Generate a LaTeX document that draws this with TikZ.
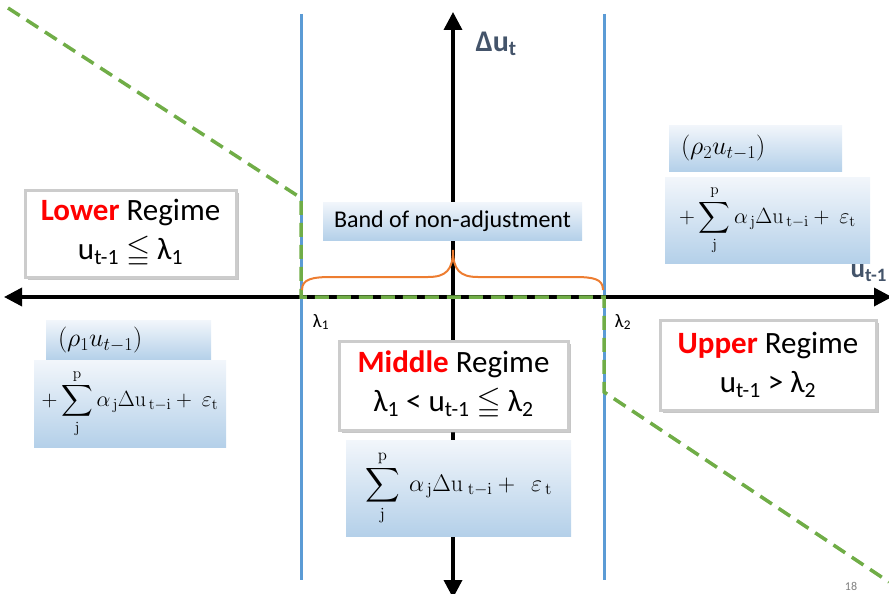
\documentclass[tikz,border=0pt]{standalone}
\usepackage{fix-cm}
\usepackage{amsmath, amssymb}
\usepackage[no-math]{fontspec}
\setmainfont{Carlito}
\usetikzlibrary{arrows.meta,shadows}

\begin{document}
\begin{tikzpicture}[x=1pt, y=-1pt,
  regimen/.style={draw=gray!40, line width=3pt, fill=white, inner sep=0pt, align=center,
    drop shadow={opacity=0.45, shadow xshift=2.5pt, shadow yshift=-2.5pt},
    font=\fontsize{31}{39}\selectfont},
  caja/.style={top color=cajaArriba, bottom color=cajaAbajo, inner sep=0pt, align=center},
  formula/.style={caja, font=\fontsize{22}{26}\selectfont},
  eje/.style={line width=3.5pt, {Triangle[length=18pt,width=18pt]}-{Triangle[length=18pt,width=18pt]}}]

% Colores
\definecolor{azulLinea}{RGB}{91,155,213}
\definecolor{verdeLinea}{RGB}{112,173,71}
\definecolor{naranjaLlave}{RGB}{237,125,49}
\definecolor{cajaArriba}{RGB}{242,246,251}
\definecolor{cajaAbajo}{RGB}{180,208,233}
\definecolor{grisEje}{RGB}{68,84,106}

\useasboundingbox (0,0) rectangle (889,594);

% Umbrales lambda
\coordinate (L1top) at (301,14);
\coordinate (L1bot) at (301,580);
\coordinate (L2top) at (604,14);
\coordinate (L2bot) at (604,580);
\draw[azulLinea, line width=3pt] (L1top) -- (L1bot);
\draw[azulLinea, line width=3pt] (L2top) -- (L2bot);

% Ejes
\coordinate (izq) at (4,297);
\coordinate (der) at (892,297);
\coordinate (arriba) at (453,12);
\coordinate (abajo) at (453,598);
\draw[eje] (izq) -- (der);
\draw[eje] (abajo) -- (arriba);

% Funcion de ajuste (discontinua)
\coordinate (g0) at (8,8);
\coordinate (g1) at (301,198);
\coordinate (g2) at (301,297);
\coordinate (g3) at (604,297);
\coordinate (g4) at (604,392);
\coordinate (g5) at (889,582);
\draw[verdeLinea, line width=3.5pt, dash pattern=on 14pt off 8pt]
  (g0) -- (g1) -- (g2) -- (g3) -- (g4) -- (g5);

% Llave de la banda
\draw[naranjaLlave, line width=2pt]
  (302,290) .. controls (302,279) and (312,277) .. (332,277) -- (428,277)
  .. controls (446,277) and (453,270) .. (453,250)
  .. controls (453,270) and (460,277) .. (478,277) -- (574,277)
  .. controls (594,277) and (603,279) .. (603,290);

% Etiquetas de ejes
\node[text=grisEje, font=\fontsize{30}{34}\selectfont\bfseries, anchor=west] (du) at (472,44) {Δu\textsubscript{t}};
\node[text=grisEje, font=\fontsize{27}{30}\selectfont\bfseries, anchor=west] (ut) at (847,273) {u\textsubscript{t-1}};
\node[font=\fontsize{19}{22}\selectfont] (lam1) at (321,322) {λ\textsubscript{1}};
\node[font=\fontsize{19}{22}\selectfont] (lam2) at (623,322) {λ\textsubscript{2}};

% Banda
\node[caja, minimum width=259pt, minimum height=38pt, font=\fontsize{24}{28}\selectfont] (banda) at (452.5,221) {Band of non-adjustment};

% Regimen inferior
\node[regimen, minimum width=211pt, minimum height=87pt] (inferior) at (130.5,233.5)
  {\textbf{\color{red}Lower} Regime\\ u\textsubscript{t-1} $\leqq$ λ\textsubscript{1}};
\node[formula, minimum width=165pt, minimum height=40pt, text width=141pt, align=left, font=\fontsize{26}{30}\selectfont] (rho1) at (128.5,340)
  {$(\rho_1 u_{t-1})$};
\node[formula, minimum width=192pt, minimum height=87pt] (suma1) at (130,403.5)
  {$+\displaystyle\sum_{\mathrm{j}}^{\mathrm{p}}\alpha_{\,\mathrm{j}}\Delta\mathrm{u}_{\,\mathrm{t-i}}+\ \varepsilon_{\mathrm{t}}$};

% Regimen medio
\node[regimen, minimum width=229pt, minimum height=89pt] (medio) at (453.5,385.5)
  {\textbf{\color{red}Middle} Regime\\ λ\textsubscript{1} < u\textsubscript{t-1} $\leqq$ λ\textsubscript{2}};
\node[formula, minimum width=225pt, minimum height=96pt, font=\fontsize{24}{28}\selectfont] (suma2) at (458.5,488)
  {$\displaystyle\sum_{\mathrm{j}}^{\mathrm{p}}\ \alpha_{\,\mathrm{j}}\Delta\mathrm{u}_{\;\mathrm{t-i}}+\ \ \varepsilon_{\,\mathrm{t}}$};

% Regimen superior
\node[regimen, minimum width=216pt, minimum height=90pt] (superior) at (768,365)
  {\textbf{\color{red}Upper} Regime\\ u\textsubscript{t-1} > λ\textsubscript{2}};
\node[formula, minimum width=173pt, minimum height=46pt, text width=149pt, align=left, font=\fontsize{26}{30}\selectfont] (rho2) at (755.5,148)
  {$(\rho_2 u_{t-1})$};
\node[formula, minimum width=205pt, minimum height=86pt] (suma3) at (767.5,220)
  {$+\displaystyle\sum_{\mathrm{j}}^{\mathrm{p}}\alpha_{\,\mathrm{j}}\Delta\mathrm{u}_{\,\mathrm{t-i}}+\ \varepsilon_{\mathrm{t}}$};

% Numero de pagina
\node[text=gray, font=\fontsize{12}{13}\selectfont] (pag) at (851,586) {18};

\end{tikzpicture}
\end{document}
